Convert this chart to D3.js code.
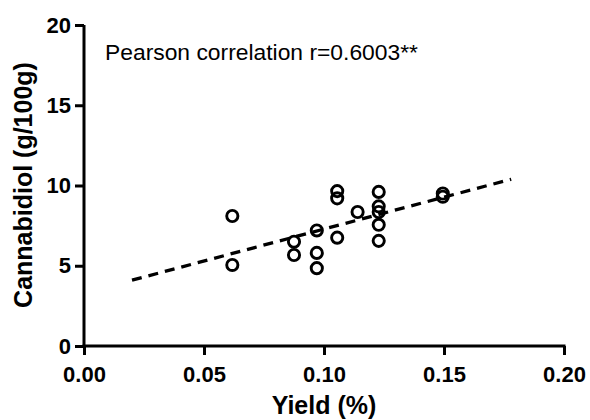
<!DOCTYPE html>
<html><head><meta charset="utf-8">
<script src="https://cdn.jsdelivr.net/npm/d3@7"></script>
<style>body{margin:0;background:#fff}svg{display:block}</style>
</head><body>
<script>
const yieldPct = [0.0618,0.0618,0.0875,0.0875,0.097,0.097,0.097,0.1055,0.1055,0.1055,0.114,0.1228,0.1228,0.1228,0.1228,0.1228,0.1495,0.1495];
const cbd      = [8.1,5.05,6.5,5.67,7.2,5.8,4.85,9.65,9.2,6.75,8.35,9.6,8.7,8.35,7.55,6.55,9.5,9.3];
const fitX = [0.02, 0.178];
const fitY = [4.1, 10.39];
const xTicks = [0,0.05,0.10,0.15,0.20];
const yTicks = [0,5,10,15,20];
const annotation = "Pearson correlation r=0.6003**";

const W=590,H=420;
const svg=d3.select("body").append("svg").attr("width",W).attr("height",H);
const x=d3.scaleLinear().domain([0,0.2]).range([84,564]);
const y=d3.scaleLinear().domain([0,20]).range([346,25]);
const font="Liberation Sans, Arial, sans-serif";

const xa=svg.append("g").attr("transform","translate(0,346)")
 .call(d3.axisBottom(x).tickValues(xTicks).tickFormat(d3.format(".2f")).tickSize(9).tickSizeOuter(0).tickPadding(11));
const ya=svg.append("g").attr("transform","translate(84,0)")
 .call(d3.axisLeft(y).tickValues(yTicks).tickFormat(d3.format("d")).tickSize(9).tickSizeOuter(0).tickPadding(4));
[xa,ya].forEach(a=>{
  a.attr("font-family",font).attr("font-size",22);
  a.select(".domain").attr("stroke","#000").attr("stroke-width",3);
  a.selectAll(".tick line").attr("stroke","#000").attr("stroke-width",3);
  a.selectAll("text").attr("fill","#000").attr("font-family",font).attr("font-weight","bold").attr("font-size",22);
});
xa.select(".domain").attr("d",`M${x(0)-1.5},0H${x(0.2)+1.5}`);
ya.select(".domain").attr("d",`M0,${y(20)}V${y(0)+1.5}`);

svg.append("line").attr("x1",x(fitX[0])).attr("y1",y(fitY[0])).attr("x2",x(fitX[1])).attr("y2",y(fitY[1]))
 .attr("stroke","#000").attr("stroke-width",3.3).attr("stroke-dasharray","10,7");

svg.append("g").selectAll("circle").data(yieldPct).join("circle")
 .attr("cx",d=>x(d)).attr("cy",(d,i)=>y(cbd[i])).attr("r",5.6)
 .attr("fill","none").attr("stroke","#000").attr("stroke-width",2.9);

svg.append("text").attr("x",105).attr("y",60).attr("font-family",font).attr("font-size",22)
 .attr("textLength",313).attr("lengthAdjust","spacingAndGlyphs").attr("fill","#000").text(annotation);

svg.append("text").attr("x",324).attr("y",414).attr("text-anchor","middle").attr("font-family",font)
 .attr("font-weight","bold").attr("font-size",25).text("Yield (%)");
svg.append("text").attr("transform","translate(32,185) rotate(-90)").attr("text-anchor","middle").attr("font-family",font)
 .attr("font-weight","bold").attr("font-size",25).text("Cannabidiol (g/100g)");
</script>
</body></html>
